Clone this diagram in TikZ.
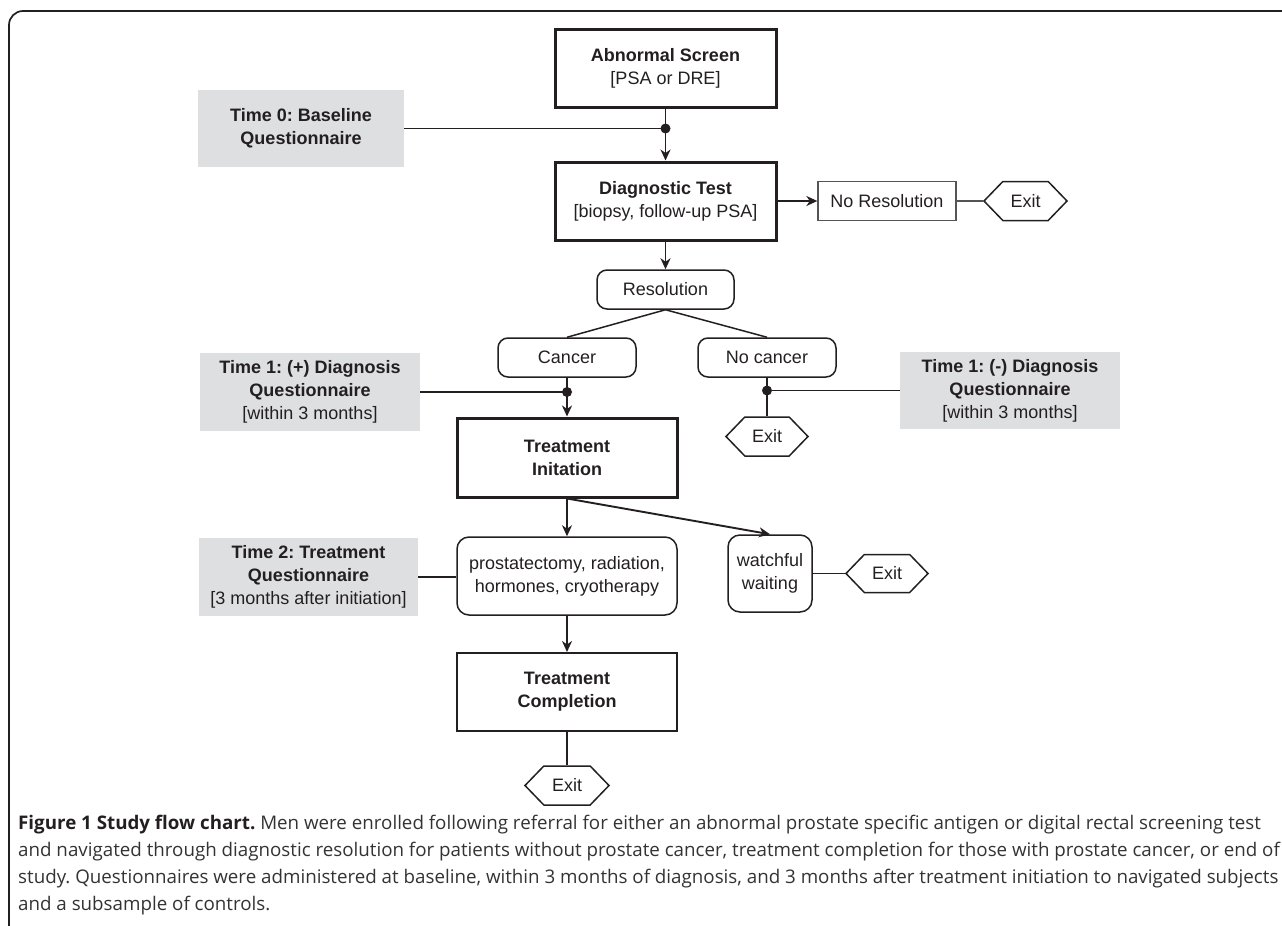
\documentclass[tikz,border=0pt]{standalone}
\usepackage{fontspec}
\setmainfont{Liberation Sans}
\newfontfamily\capfont{Open Sans}
\usetikzlibrary{shapes.symbols,arrows.meta,calc}
\definecolor{ink}{HTML}{231F20}
\definecolor{qgray}{HTML}{DEDFE1}
\definecolor{thinln}{HTML}{555555}
\definecolor{capink}{HTML}{333333}
\frenchspacing
\begin{document}
\begin{tikzpicture}[x=1pt,y=-1pt,
  every node/.style={text=ink, font=\fontsize{18}{23}\selectfont, align=center, inner sep=0pt},
  mainbox/.style={draw=ink, line width=3pt, minimum width=221pt, minimum height=78pt},
  plainbox/.style={draw=ink, line width=2pt, minimum width=220pt, minimum height=78pt},
  thinbox/.style={draw=thinln, line width=1.3pt, minimum width=138pt, minimum height=39pt},
  roundbox/.style={draw=ink, line width=1.5pt, rounded corners=10pt, minimum width=138pt, minimum height=39pt},
  qbox/.style={fill=qgray, minimum width=220pt, minimum height=78pt},
  exitbox/.style={draw=ink, line width=1.5pt, shape=signal, signal to=west and east, signal pointer angle=92, minimum width=83pt, minimum height=39pt},
  conn/.style={draw=ink, line width=1.9pt},
  arr/.style={conn, -{Stealth[length=11pt,width=10pt,inset=3.5pt]}},
  junc/.style={fill=ink}
]
\useasboundingbox (0,0) rectangle (1282,926);
% frame
\draw[ink, line width=1.7pt, rounded corners=14pt] (1300,11) -- (9,11) -- (9,940);

% nodes
\node[mainbox] (abn) at (665.5,68) {\textbf{Abnormal Screen}\\{}[PSA or DRE]};
\node[mainbox] (diag) at (665.5,201) {\textbf{Diagnostic Test}\\{}[biopsy, follow-up PSA]};
\node[thinbox] (nores) at (887,201) {No Resolution};
\node[exitbox] (exit1) at (1025.5,201) {Exit};
\node[roundbox, minimum width=137pt] (reso) at (665.5,289.5) {Resolution};
\node[roundbox] (cancer) at (567,357.5) {Cancer};
\node[roundbox] (nocancer) at (767,357.5) {No cancer};
\node[qbox, minimum width=206pt, minimum height=77pt] (t0) at (301,128.5) {\textbf{Time 0: Baseline}\\\textbf{Questionnaire}};
\node[qbox] (t1p) at (310,392) {\textbf{Time 1: (+) Diagnosis}\\\textbf{Questionnaire}\\{}[within 3 months]};
\node[qbox, minimum height=77pt] (t1n) at (1010,390.5) {\textbf{Time 1: (-) Diagnosis}\\\textbf{Questionnaire}\\{}[within 3 months]};
\node[exitbox, minimum width=82pt] (exit2) at (767,436.5) {Exit};
\node[mainbox, minimum width=220pt, minimum height=79pt] (treat) at (567,457.5) {\textbf{Treatment}\\\textbf{Initation}};
\node[roundbox, rounded corners=12pt, minimum width=220pt, minimum height=78pt] (prost) at (567,576) {prostatectomy, radiation,\\hormones, cryotherapy};
\node[roundbox, rounded corners=12pt, minimum width=84pt, minimum height=77pt] (watch) at (770,573.5) {watchful\\waiting};
\node[exitbox, minimum width=82pt, minimum height=38pt] (exit3) at (887,573.5) {Exit};
\node[qbox, minimum width=219pt] (t2) at (308.5,577) {\textbf{Time 2: Treatment}\\\textbf{Questionnaire}\\{}[3 months after initiation]};
\node[plainbox] (compl) at (567,692) {\textbf{Treatment}\\\textbf{Completion}};
\node[exitbox, minimum width=84pt] (exit4) at (567,785.5) {Exit};

% junctions
\coordinate (j0) at (abn.south |- t0.east);
\coordinate (j1) at (cancer.south |- t1p.east);
\coordinate (j2) at (nocancer.south |- t1n.west);

% connectors
\draw[conn] (t0.east) -- (j0);
\draw[arr] (abn.south) -- (diag.north);
\fill[junc] (j0) circle (5pt);
\draw[arr] (diag.east) -- (nores.west);
\draw[conn, line width=1.4pt, draw=thinln] (nores.east) -- (exit1.west);
\draw[arr] (diag.south) -- (reso.north);
\draw[conn, line width=1.5pt] (reso.south) -- (cancer.north);
\draw[conn, line width=1.5pt] (reso.south) -- (nocancer.north);
\draw[conn] (t1p.east) -- (j1);
\draw[arr] (cancer.south) -- (treat.north);
\fill[junc] (j1) circle (5pt);
\draw[conn] (t1n.west) -- (j2);
\draw[conn, line width=1.5pt] (nocancer.south) -- (exit2.north);
\fill[junc] (j2) circle (5pt);
\draw[arr] (treat.south) -- (prost.north);
\draw[arr] (treat.south) -- (watch.north);
\draw[conn] (t2.east) -- (t2.east -| prost.west);
\draw[conn, line width=1.5pt] (watch.east) -- (exit3.west);
\draw[arr] (prost.south) -- (compl.north);
\draw[conn, line width=1.5pt] (compl.south) -- (exit4.north);

% caption
\node[anchor=north west, align=left, text=capink, font=\capfont\fontsize{18.75}{27}\selectfont] (cap) at (18,815) {%
{\color{ink}\textbf{Figure 1 Study flow chart.}} Men were enrolled following referral for either an abnormal prostate specific antigen or digital rectal screening test\\
and navigated through diagnostic resolution for patients without prostate cancer, treatment completion for those with prostate cancer, or end of\\
study. Questionnaires were administered at baseline, within 3 months of diagnosis, and 3 months after treatment initiation to navigated subjects\\
and a subsample of controls.};
\end{tikzpicture}
\end{document}
